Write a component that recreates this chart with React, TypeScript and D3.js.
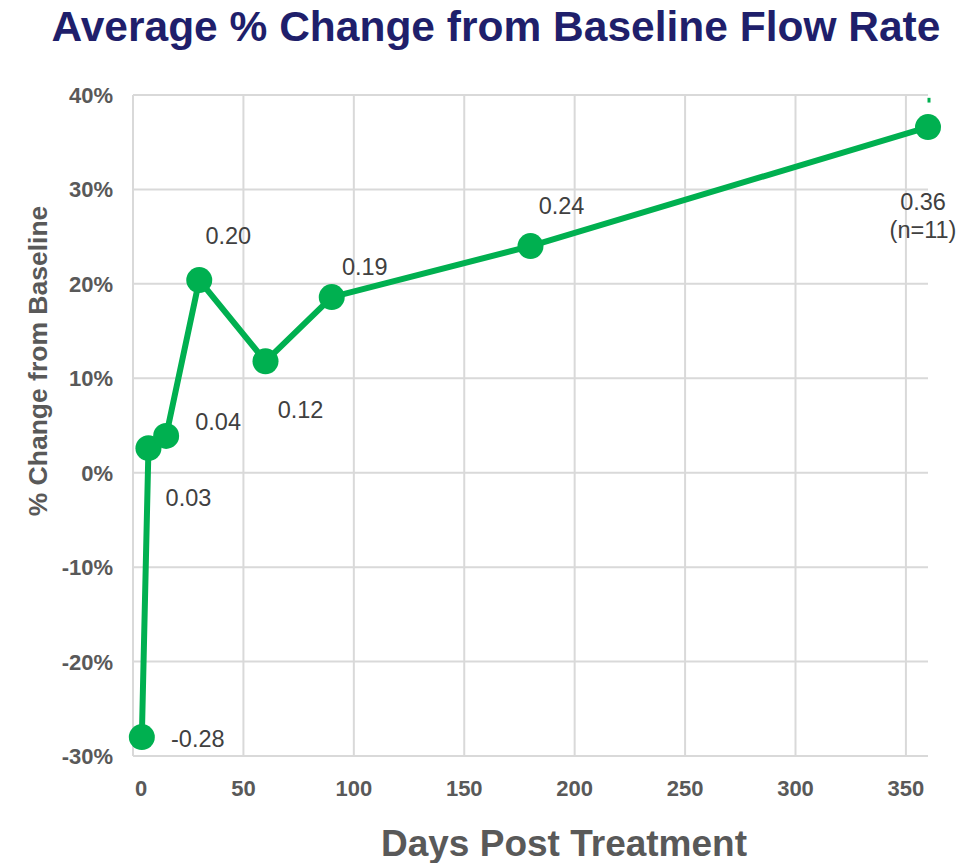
import React from "react";
import * as d3 from "d3";

// Days post treatment and average % change from baseline flow rate
const days = [4, 7, 15, 30, 60, 90, 180, 360];
const change = [-0.28, 0.026, 0.039, 0.204, 0.118, 0.186, 0.240, 0.366];
const pointLabels = ["-0.28", "0.03", "0.04", "0.20", "0.12", "0.19", "0.24", "0.36"];
// label placement relative to each marker: [dx, dy]
const labelOffsets: [number, number][] = [
  [56, 2], [40, 50], [52, -14], [29, -44], [35, 49], [33, -30], [31, -40], [-5, 75],
];
const xTicks = [0, 50, 100, 150, 200, 250, 300, 350];
const yTicks = [-0.3, -0.2, -0.1, 0, 0.1, 0.2, 0.3, 0.4];
// partial upper whisker at the final time point
const whisker = { day: 360, from: 0.392, to: 0.397 };

const W = 966;
const H = 863;
const margin = { left: 133, right: 38, top: 95, bottom: 107 };

export default function App() {
  const x = d3.scaleLinear().domain([0, 360]).range([margin.left, W - margin.right]);
  const y = d3.scaleLinear().domain([-0.3, 0.4]).range([H - margin.bottom, margin.top]);
  const line = d3
    .line<number>()
    .x((_, i) => x(days[i]))
    .y((d) => y(d));
  const green = "#00B050";
  const grid = "#d9d9d9";
  const tickColor = "#595959";
  const fmt = (t: number) => d3.format(".0%")(t).replace("\u2212", "-");

  return (
    <svg width={W} height={H} style={{ position: "absolute", left: 0, top: 0, fontFamily: "'Liberation Sans', Arial, sans-serif" }}>
      <rect width={W} height={H} fill="#fff" />
      <text x={496} y={41} textAnchor="middle" fontSize={42.5} fontWeight="bold" fill="#1F1F6B">
        Average % Change from Baseline Flow Rate
      </text>

      {/* grid */}
      {xTicks.map((t) => (
        <line key={"gx" + t} x1={x(t)} x2={x(t)} y1={y(0.4)} y2={y(-0.3)} stroke={grid} strokeWidth={2} />
      ))}
      {yTicks.map((t) => (
        <line key={"gy" + t} x1={x(0)} x2={x(360)} y1={y(t)} y2={y(t)} stroke={grid} strokeWidth={2} />
      ))}

      {/* tick labels */}
      {yTicks.map((t) => (
        <text key={"ty" + t} x={113} y={y(t) + 8} textAnchor="end" fontSize={22} fontWeight="bold" fill={tickColor}>
          {fmt(t)}
        </text>
      ))}
      {xTicks.map((t) => (
        <text key={"tx" + t} x={x(t) + (t === 0 ? 8 : 0)} y={796} textAnchor="middle" fontSize={22} fontWeight="bold" fill={tickColor}>
          {t}
        </text>
      ))}

      <text x={564} y={856} textAnchor="middle" fontSize={37} fontWeight="bold" fill={tickColor}>
        Days Post Treatment
      </text>
      <text
        transform={`translate(47, 361) rotate(-90)`}
        textAnchor="middle"
        fontSize={26.5}
        fontWeight="bold"
        fill={tickColor}
      >
        % Change from Baseline
      </text>

      {/* series */}
      <line x1={x(whisker.day) + 1} x2={x(whisker.day) + 1} y1={y(whisker.from)} y2={y(whisker.to)} stroke={green} strokeWidth={3} />
      <path d={line(change) || ""} fill="none" stroke={green} strokeWidth={6} strokeLinejoin="round" />
      {change.map((v, i) => (
        <circle key={"p" + i} cx={x(days[i])} cy={y(v)} r={13} fill={green} />
      ))}
      {change.map((v, i) => (
        <text
          key={"l" + i}
          x={x(days[i]) + labelOffsets[i][0]}
          y={y(v) + labelOffsets[i][1] + 8}
          textAnchor="middle"
          fontSize={23.5}
          fill="#404040"
        >
          {pointLabels[i]}
        </text>
      ))}
      <text x={x(360) - 5} y={y(change[7]) + 75 + 8 + 28} textAnchor="middle" fontSize={23.5} fill="#404040">
        (n=11)
      </text>
    </svg>
  );
}
